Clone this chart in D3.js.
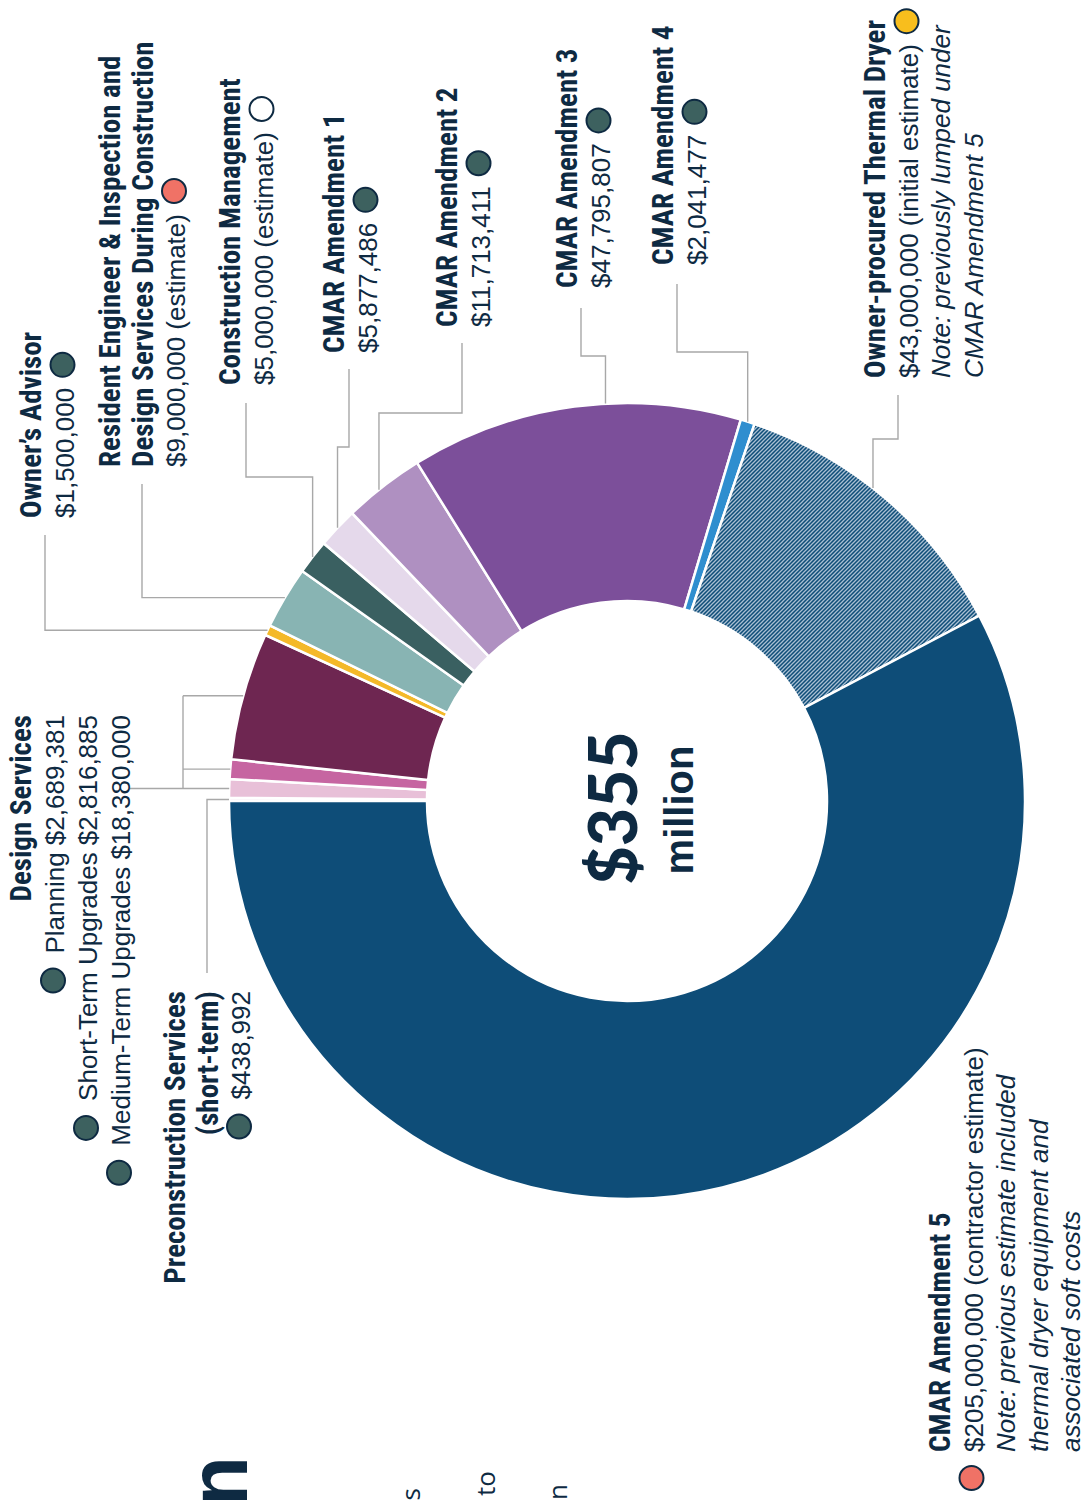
<!DOCTYPE html>
<html>
<head>
<meta charset="utf-8">
<script src="https://d3js.org/d3.v7.min.js"></script>
<style>
  body { margin: 0; background: #fff; }
  svg { display: block; }
  text { fill: #0e2a42; }
  .head { font-family: "Liberation Sans Narrow", "Roboto Condensed", "DejaVu Sans Condensed", sans-serif; font-weight: bold; font-size: 29px; }
  .val { font-family: "Liberation Sans", Arial, sans-serif; font-size: 26px; }
  .note { font-family: "Liberation Sans", Arial, sans-serif; font-size: 26px; font-style: italic; }
  .leader { fill: none; stroke: #a8a8a8; stroke-width: 1.4px; }
  .body { font-family: "Open Sans", sans-serif; font-size: 26px; }
</style>
</head>
<body>
<svg width="1082" height="1500"></svg>
<script>
// segments, in drawing order (clockwise from the left)
var names = ["Preconstruction Services\n(short-term)", "Planning", "Short-Term Upgrades", "Medium-Term Upgrades",
  "Owner’s Advisor", "Resident Engineer & Inspection and\nDesign Services During Construction",
  "Construction Management", "CMAR Amendment 1", "CMAR Amendment 2", "CMAR Amendment 3",
  "CMAR Amendment 4", "Owner-procured Thermal Dryer", "CMAR Amendment 5"];
var values = [438992, 2689381, 2816885, 18380000, 1500000, 9000000, 5000000, 5877486,
  11713411, 47795807, 2041477, 43000000, 205000000];
var qualifiers = ["", "", "", "", "", "(estimate)", "(estimate)", "", "", "", "", "(initial estimate)", "(contractor estimate)"];
var notes = [[], [], [], [], [], [], [], [], [], [], [],
  ["Note: previously lumped under", "CMAR Amendment 5"],
  ["Note: previous estimate included", "thermal dryer equipment and", "associated soft costs"]];
var statuses = ["green", "green", "green", "green", "green", "red", "white", "green", "green", "green", "green", "yellow", "red"];
var colors = ["#f3e3ec", "#e8c0d8", "#c665a1", "#6e2651", "#f4b929", "#88b4b3", "#3a6061",
  "#e5d9eb", "#af90c1", "#7c4f9a", "#2f8ecf", "url(#hatch)", "#0e4d78"];
var groupName = "Design Services";
var groupMembers = [1, 2, 3];

var statusColor = {green: "#3d615f", red: "#f07266", white: "#ffffff", yellow: "#f8be1d"};
var fmt = d3.format("$,");

var svg = d3.select("svg");
var cx = 627, cy = 801, outerR = 398, innerR = 200;

var defs = svg.append("defs");
var pat = defs.append("pattern").attr("id", "hatch").attr("patternUnits", "userSpaceOnUse")
  .attr("width", 4).attr("height", 4);
pat.append("rect").attr("width", 4).attr("height", 4).attr("fill", "#0e4d78");
pat.append("path").attr("d", "M-1,1 l2,-2 M0,4 l4,-4 M3,5 l2,-2")
  .attr("stroke", "#a9bfd3").attr("stroke-width", 1.3);

var pie = d3.pie().sort(null).value(function(d) { return d; })
  .startAngle(-Math.PI / 2).endAngle(3 * Math.PI / 2);
var arcs = pie(values);
var arc = d3.arc().innerRadius(innerR).outerRadius(outerR);

var donut = svg.append("g").attr("transform", "translate(" + cx + "," + cy + ")");
donut.selectAll("path").data(arcs).enter().append("path")
  .attr("d", arc)
  .attr("fill", function(d, i) { return colors[i]; })
  .attr("stroke", "#fff")
  .attr("stroke-width", 2.5);

function edge(i, nudge) {
  var a = (arcs[i].startAngle + arcs[i].endAngle) / 2 + (nudge || 0) * Math.PI / 180;
  return [cx + outerR * Math.sin(a), cy - outerR * Math.cos(a)];
}

// leader lines
var leaders = [
  {i: 0, lx: 207, ly0: 973},
  {i: 4, lx: 45, ly0: 535},
  {i: 5, lx: 142, ly0: 484},
  {i: 6, lx: 246, ly0: 403, ey: 477},
  {i: 7, lx: 349, ly0: 369, ey: 447},
  {i: 8, lx: 462, ly0: 343, ey: 413, nudge: -0.8},
  {i: 9, lx: 581, ly0: 308, ey: 356, nudge: 4.5},
  {i: 10, lx: 677, ly0: 284, ey: 352},
  {i: 11, lx: 898, ly0: 395, ey: 439, nudge: -2.3}
];
leaders.forEach(function(l) {
  var p = edge(l.i, l.nudge);
  var ey = l.ey == null ? p[1] : l.ey;
  svg.append("path").attr("class", "leader")
    .attr("d", "M" + l.lx + "," + l.ly0 + "V" + ey + "H" + p[0] + "V" + p[1]);
});
// bracket for the design services group
var bx = 183;
var gp = groupMembers.map(function(i) { return edge(i); });
gp.forEach(function(p) {
  svg.append("path").attr("class", "leader").attr("d", "M" + bx + "," + p[1] + "H" + p[0]);
});
svg.append("path").attr("class", "leader")
  .attr("d", "M" + bx + "," + d3.min(gp, function(p) { return p[1]; }) + "V" + d3.max(gp, function(p) { return p[1]; }));
svg.append("path").attr("class", "leader").attr("d", "M130," + gp[0][1] + "H" + bx);

// rotated text helpers
function rtext(x, y, str, cls, anchor) {
  return svg.append("text")
    .attr("transform", "translate(" + x + "," + y + ") rotate(-90)")
    .attr("class", cls).attr("text-anchor", anchor || "start").text(str);
}
function dot(x, y, status) {
  svg.append("circle").attr("cx", x).attr("cy", y).attr("r", 12)
    .attr("fill", statusColor[status]).attr("stroke", "#0e2a42").attr("stroke-width", 2);
}

var step = 32.5;
var labels = [
  {i: 0, x: 185, y: 991, anchor: "end", dotPos: "before"},
  {i: 4, x: 41, y: 518},
  {i: 5, x: 120, y: 467},
  {i: 6, x: 240, y: 385},
  {i: 7, x: 344, y: 353},
  {i: 8, x: 457, y: 327},
  {i: 9, x: 577, y: 288},
  {i: 10, x: 673, y: 265},
  {i: 11, x: 885, y: 378},
  {i: 12, x: 950, y: 1452, dotPos: "before"}
];
labels.forEach(function(l) {
  var anchor = l.anchor || "start";
  var x = l.x;
  names[l.i].split("\n").forEach(function(s) {
    rtext(x, l.y, s, "head", anchor);
    x += step;
  });
  var v = fmt(values[l.i]) + (qualifiers[l.i] ? " " + qualifiers[l.i] : "");
  var t = rtext(x, l.y, v, "val", anchor);
  var len = t.node().getComputedTextLength();
  if (l.dotPos === "before") {
    dot(x - 11, anchor === "end" ? l.y + len + 27 : l.y + 26, statuses[l.i]);
  } else {
    dot(x - 11, l.y - len - 23, statuses[l.i]);
  }
  notes[l.i].forEach(function(s) {
    x += step;
    rtext(x, l.y, s, "note", anchor);
  });
});

// design services group (right aligned, dots first)
rtext(31, 715, groupName, "head", "end");
groupMembers.forEach(function(i, k) {
  var x = 64 + k * 33;
  var t = rtext(x, 715, names[i] + " " + fmt(values[i]), "val", "end");
  dot(x - 11, 715 + t.node().getComputedTextLength() + 27, statuses[i]);
});

// centre total
var total = d3.sum(values);
svg.append("text").attr("transform", "translate(637,808) rotate(-90)")
  .attr("text-anchor", "middle")
  .style("font-family", "Lato, sans-serif").style("font-weight", 900).style("font-size", "66px")
  .text("$" + Math.floor(total / 1e6));
svg.append("text").attr("transform", "translate(693,810) rotate(-90)")
  .attr("text-anchor", "middle")
  .style("font-family", "'Liberation Sans', sans-serif").style("font-weight", "bold").style("font-size", "40px")
  .text("million");

// clipped text from the neighbouring page column
svg.append("text").attr("transform", "translate(247,1456) rotate(-90)")
  .attr("text-anchor", "end")
  .style("font-family", "'Liberation Sans Narrow', sans-serif").style("font-weight", "bold").style("font-size", "84px")
  .text("Project Cost Allocation");
rtext(420, 1488, "the contracts", "body", "end");
rtext(495, 1471, "amounts to", "body", "end");
rtext(567, 1484, "construction", "body", "end");
</script>
</body>
</html>
